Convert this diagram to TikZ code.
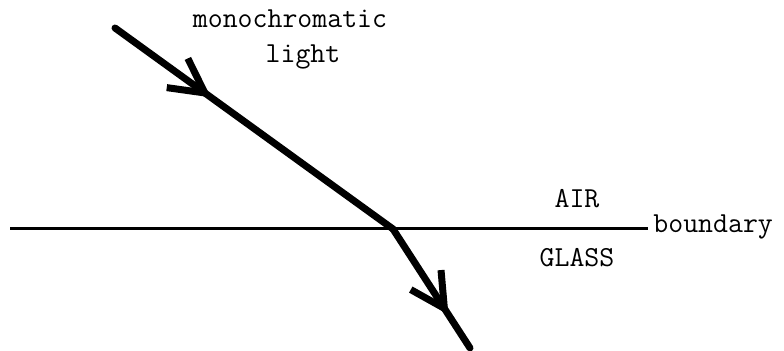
\documentclass[tikz,border=0pt]{standalone}
\usetikzlibrary{arrows.meta,decorations.markings}

\begin{document}
\begin{tikzpicture}[
  x=0.5pt,y=-0.5pt,
  lbl/.style={font=\ttfamily\fontsize{14.5}{17}\selectfont,inner sep=0pt},
  ray/.style={line width=3.5pt,line cap=round,line join=round},
  mid/.style={postaction={decorate},decoration={markings,mark=at position #1 with {\arrow{Straight Barb[length=17pt,width=18pt,line width=3.5pt]}}}},
  edge/.style={line width=1.5pt},
]
\useasboundingbox (0,0) rectangle (784,351);

\coordinate (src) at (115,28);
\coordinate (hit) at (393,229);
\coordinate (out) at (470,348);
\coordinate (bl) at (10,229);
\coordinate (br) at (648,229);

\node[lbl,anchor=base] (mono) at (290,28) {monochromatic};
\node[lbl,anchor=base] (light) at (303,63) {light};
\node[lbl,anchor=base] (air) at (577,208) {AIR};
\node[lbl,anchor=base] (glass) at (577,267) {GLASS};
\node[lbl,anchor=base west] (bnd) at (653,233) {boundary};

\draw[edge] (bl) -- (br);
\draw[ray,mid=0.345] (src) -- (hit);
\draw[ray,mid=0.72] (hit) -- (out);
\end{tikzpicture}
\end{document}
